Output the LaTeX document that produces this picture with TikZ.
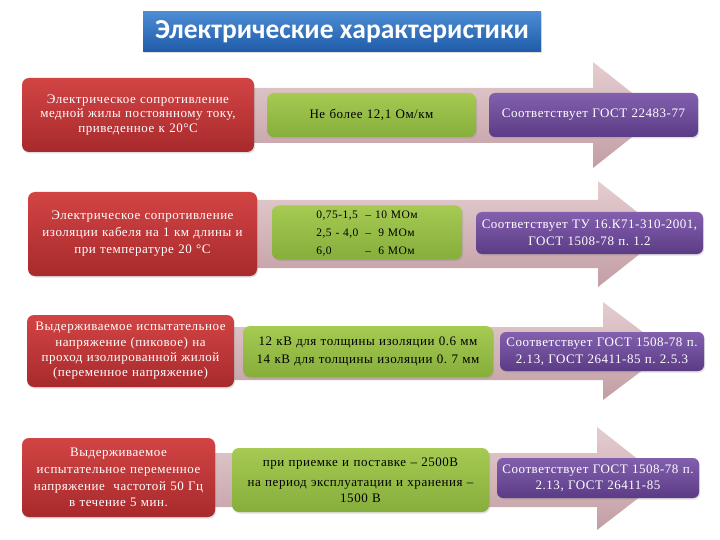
\documentclass[tikz,border=0pt]{standalone}
\usepackage{fontspec}
\setmainfont{Liberation Serif}
\setsansfont{Carlito}
\newfontfamily\wideserif[LetterSpace=4]{Liberation Serif}
\usetikzlibrary{shadows}
\frenchspacing
\definecolor{redT}{HTML}{D24444}
\definecolor{redB}{HTML}{A82A2C}
\definecolor{grnT}{HTML}{A6CA52}
\definecolor{grnB}{HTML}{86AE3C}
\definecolor{purT}{HTML}{8260AE}
\definecolor{purB}{HTML}{5C3B86}
\definecolor{bluT}{HTML}{4C8CD4}
\definecolor{bluB}{HTML}{1F5BA8}
\definecolor{arrT}{HTML}{E4CDD0}
\definecolor{arrB}{HTML}{C29EA4}
\tikzset{
  x=1pt, y=-1pt,
  shad/.style={drop shadow={opacity=0.25, shadow xshift=1pt, shadow yshift=-1.5pt}},
  redbox/.style={shad, rounded corners=7pt, top color=redT, bottom color=redB, text=white,
     align=center, inner xsep=2pt, inner ysep=0pt, font=\wideserif\fontsize{13}{14.5}\selectfont},
  grnbox/.style={shad, rounded corners=7pt, top color=grnT, bottom color=grnB, text=black,
     align=center, inner xsep=2pt, inner ysep=0pt, font=\wideserif\fontsize{13}{16}\selectfont},
  purbox/.style={shad, rounded corners=6pt, top color=purT, bottom color=purB, text=white,
     align=center, inner xsep=2pt, inner ysep=0pt, font=\wideserif\fontsize{13}{17}\selectfont},
  bigarrow/.style={top color=arrT, bottom color=arrB},
}
\begin{document}
\begin{tikzpicture}
\useasboundingbox (0,0) rectangle (720,540);
% arrows
\path[bigarrow] (150,88) -- (593,88) -- (593,62) -- (660,115) -- (593,168) -- (593,143) -- (150,143) -- cycle;
\path[bigarrow] (150,200) -- (598,200) -- (598,181) -- (665,234) -- (598,287) -- (598,268) -- (150,268) -- cycle;
\path[bigarrow] (150,327) -- (603,327) -- (603,302) -- (668,351) -- (603,400) -- (603,380) -- (150,380) -- cycle;
\path[bigarrow] (150,453) -- (597,453) -- (597,427) -- (663,479) -- (597,530) -- (597,507) -- (150,507) -- cycle;
% title
\node[shad, top color=bluT, bottom color=bluB, text=white, minimum width=398, minimum height=40,
  inner sep=0pt, font=\sffamily\bfseries\fontsize{27.5}{30}\selectfont] (title) at (342,32)
  {Электрические характеристики};
% row 1
\node[redbox, minimum width=232, minimum height=74, text width=228] (r1) at (138,115)
  {Электрическое сопротивление\\медной жилы постоянному току,\\приведенное к 20°С};
\node[grnbox, minimum width=209, minimum height=44, text width=205] (g1) at (371.5,115)
  {Не более 12,1 Ом/км};
\node[purbox, minimum width=209, minimum height=44, text width=205] (p1) at (593.5,115)
  {Соответствует ГОСТ 22483-77};
% row 2
\node[redbox, minimum width=229, minimum height=84, text width=225, font=\wideserif\fontsize{13}{17}\selectfont] (r2) at (142.5,234)
  {Электрическое сопротивление\\изоляции кабеля на 1 км длины и\\при температуре 20 °С};
\node[grnbox, minimum width=190, minimum height=51, text width=186, font=\wideserif\fontsize{11.5}{18}\selectfont] (g2) at (367,232.5)
  {\begin{tabular}{@{}l@{\hspace{7pt}}l@{}}
   0,75-1,5 & – 10 МОм\\ 2,5 - 4,0 & – \;9 МОм\\ 6,0 & – \;6 МОм\end{tabular}};
\node[purbox, minimum width=227, minimum height=42, text width=223] (p2) at (589.5,233)
  {Соответствует ТУ 16.К71-310-2001,\\ГОСТ 1508-78 п. 1.2};
% row 3
\node[redbox, minimum width=205, minimum height=72, text width=203, font=\wideserif\fontsize{13}{15.3}\selectfont] (r3) at (130.5,351)
  {Выдерживаемое испытательное\\напряжение (пиковое) на\\проход изолированной жилой\\(переменное напряжение)};
\node[grnbox, minimum width=250, minimum height=51, text width=246, font=\wideserif\fontsize{13}{18}\selectfont] (g3) at (368,351.5)
  {12 кВ для толщины изоляции 0.6 мм\\14 кВ для толщины изоляции 0. 7 мм};
\node[purbox, minimum width=202, minimum height=39, text width=200, font=\wideserif\fontsize{13}{17.5}\selectfont] (p3) at (602,351.5)
  {Соответствует ГОСТ 1508-78 п.\\2.13, ГОСТ 26411-85 п. 2.5.3};
% row 4
\node[redbox, minimum width=191, minimum height=79, text width=189, font=\wideserif\fontsize{13}{16.7}\selectfont] (r4) at (118.5,477.5)
  {Выдерживаемое\\испытательное переменное\\напряжение \ частотой 50 Гц\\в течение 5 мин.};
\node[grnbox, minimum width=257, minimum height=64, text width=253] (g4) at (360.5,480)
  {при приемке и поставке – 2500В\\[4pt]на период эксплуатации и хранения –\\1500 В};
\node[purbox, minimum width=200, minimum height=40, text width=198, font=\wideserif\fontsize{13}{16}\selectfont] (p4) at (598,478)
  {Соответствует ГОСТ 1508-78 п.\\2.13, ГОСТ 26411-85};
\end{tikzpicture}
\end{document}
